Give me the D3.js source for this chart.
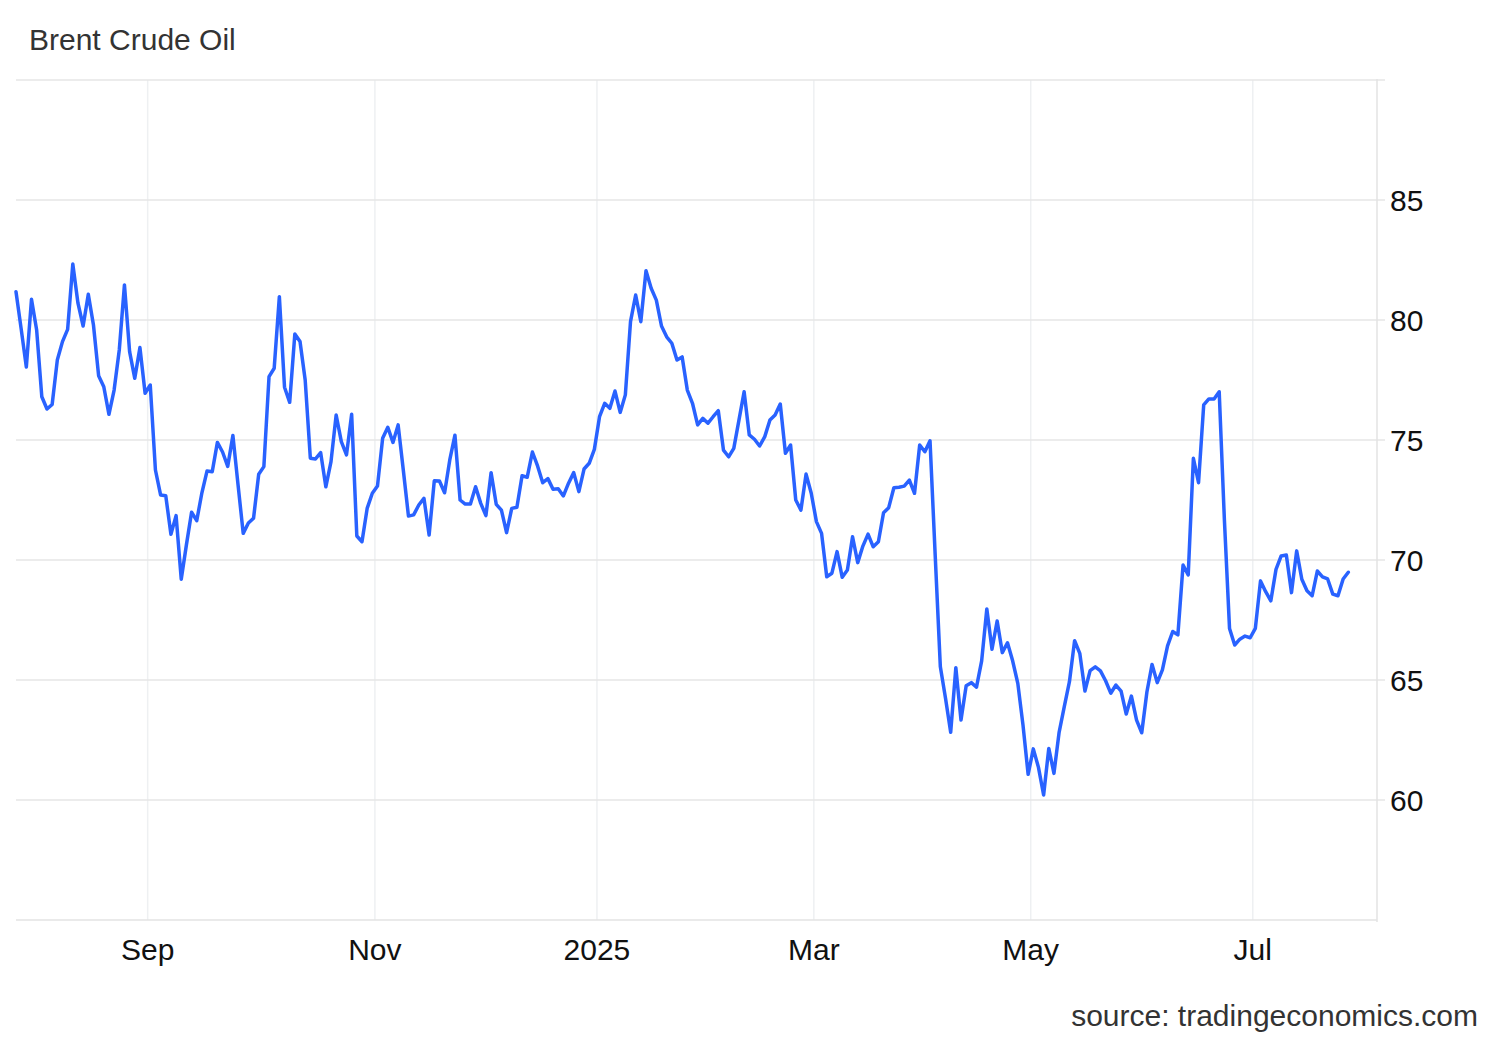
<!DOCTYPE html>
<html>
<head>
<meta charset="utf-8">
<script src="https://cdn.jsdelivr.net/npm/d3@7/dist/d3.min.js"></script>
<style>
  html, body { margin: 0; padding: 0; background: #ffffff; }
  svg { display: block; font-family: "Liberation Sans", Arial, Helvetica, sans-serif; }
</style>
</head>
<body>
<svg id="chart" width="1500" height="1040"></svg>
<script>
// ---- Data ----
const title = "Brent Crude Oil";
const sourceText = "source: tradingeconomics.com";
const firstDay = "2024-07-26";
const lastDay = "2025-07-25";
const closedDays = ["2025-01-01", "2025-04-18"];
const prices = [
  81.18, 79.63, 78.04, 80.86, 79.58, 76.80, 76.29, 76.48, 78.33, 79.10,
  79.61, 82.33, 80.70, 79.75, 81.07, 79.79, 77.68, 77.22, 76.07, 77.08,
  78.75, 81.46, 78.68, 77.57, 78.85, 76.95, 77.29, 73.75, 72.71, 72.68,
  71.07, 71.85, 69.20, 70.63, 71.99, 71.64, 72.80, 73.71, 73.68, 74.90,
  74.50, 73.90, 75.19, 73.13, 71.11, 71.54, 71.74, 73.57, 73.89, 77.64,
  77.99, 80.97, 77.20, 76.57, 79.42, 79.10, 77.50, 74.24, 74.21, 74.47,
  73.05, 74.10, 76.04, 74.93, 74.38, 76.07, 71.00, 70.76, 72.15, 72.78,
  73.08, 75.07, 75.53, 74.90, 75.63, 73.75, 71.83, 71.88, 72.29, 72.57,
  71.04, 73.30, 73.29, 72.80, 74.17, 75.20, 72.50, 72.33, 72.33, 73.05,
  72.36, 71.85, 73.64, 72.32, 72.08, 71.14, 72.15, 72.20, 73.51, 73.45,
  74.50, 73.92, 73.22, 73.39, 72.95, 72.97, 72.67, 73.20, 73.64, 72.85,
  73.79, 74.03, 74.61, 75.97, 76.53, 76.32, 77.04, 76.15, 76.88, 79.93,
  81.04, 79.93, 82.05, 81.32, 80.83, 79.75, 79.30, 79.03, 78.33, 78.46,
  77.08, 76.53, 75.63, 75.90, 75.70, 75.97, 76.22, 74.58, 74.30, 74.65,
  75.83, 77.01, 75.21, 75.03, 74.75, 75.14, 75.83, 76.04, 76.50, 74.45,
  74.79, 72.50, 72.08, 73.58, 72.78, 71.60, 71.11, 69.30, 69.45, 70.35,
  69.28, 69.58, 70.97, 69.89, 70.58, 71.08, 70.55, 70.76, 71.97, 72.18,
  73.01, 73.03, 73.08, 73.33, 72.78, 74.79, 74.51, 74.97, 70.20, 65.55,
  64.24, 62.82, 65.51, 63.33, 64.76, 64.89, 64.70, 65.80, 67.96, 66.28,
  67.46, 66.14, 66.55, 65.80, 64.86, 63.13, 61.07, 62.13, 61.36, 60.21,
  62.15, 61.11, 62.82, 63.89, 64.93, 66.64, 66.11, 64.54, 65.39, 65.55,
  65.38, 64.97, 64.45, 64.79, 64.54, 63.58, 64.33, 63.33, 62.80, 64.50,
  65.65, 64.89, 65.42, 66.42, 67.02, 66.88, 69.79, 69.38, 74.24, 73.22,
  76.46, 76.71, 76.71, 77.01, 71.70, 67.15, 66.46, 66.70, 66.83, 66.76,
  67.15, 69.13, 68.68, 68.30, 69.61, 70.17, 70.21, 68.64, 70.38, 69.20,
  68.72, 68.51, 69.54, 69.30, 69.21, 68.58, 68.51, 69.21, 69.49
];
const tickMonths = ["2024-09", "2024-11", "2025-01", "2025-03", "2025-05", "2025-07"];
const tickLabels = ["Sep", "Nov", "2025", "Mar", "May", "Jul"];
const yTicks = [60, 65, 70, 75, 80, 85];
const yGridValues = [60, 65, 70, 75, 80, 85, 90];

// ---- Trading-day calendar (weekdays minus closed days) ----
const parse = d3.timeParse("%Y-%m-%d");
const fmtDay = d3.timeFormat("%Y-%m-%d");
const fmtMonth = d3.timeFormat("%Y-%m");
const closedSet = new Set(closedDays);
const dates = d3.timeDay.range(parse(firstDay), d3.timeDay.offset(parse(lastDay), 1))
  .filter(d => d.getDay() !== 0 && d.getDay() !== 6 && !closedSet.has(fmtDay(d)));
const data = prices.map((v, i) => ({ i, date: dates[i], value: v }));

// ---- Layout ----
const svg = d3.select("#chart");
const plot = { left: 16, right: 1377, top: 80, bottom: 920 };

const x = d3.scaleLinear().domain([0, prices.length - 1]).range([plot.left, 1348.3]);
const y = d3.scaleLinear().domain([55, 90]).range([plot.bottom, plot.top]);

const tickIdx = tickMonths.map(m => dates.findIndex(d => fmtMonth(d) === m) - 0.5);

// background
svg.append("rect").attr("width", 1500).attr("height", 1040).attr("fill", "#ffffff");

// vertical grid lines
svg.append("g").selectAll("line").data(tickIdx).join("line")
  .attr("x1", d => x(d)).attr("x2", d => x(d))
  .attr("y1", plot.top).attr("y2", plot.bottom)
  .attr("stroke", "#eef0f2").attr("stroke-width", 1.5);

// horizontal grid lines
svg.append("g").selectAll("line").data(yGridValues).join("line")
  .attr("x1", plot.left).attr("x2", 1385)
  .attr("y1", d => y(d)).attr("y2", d => y(d))
  .attr("stroke", "#e6e6e6").attr("stroke-width", 1.5);

// axis frame (bottom + right)
svg.append("line")
  .attr("x1", plot.left).attr("x2", plot.right)
  .attr("y1", y(55)).attr("y2", y(55))
  .attr("stroke", "#e3e3e3").attr("stroke-width", 1.5);
svg.append("line")
  .attr("x1", plot.right).attr("x2", plot.right)
  .attr("y1", y(90) - 1).attr("y2", y(55) + 2)
  .attr("stroke", "#e3e3e3").attr("stroke-width", 1.5);

// y labels
svg.append("g").selectAll("text").data(yTicks).join("text")
  .attr("x", 1390).attr("y", d => y(d) + 11)
  .attr("font-size", 30).attr("fill", "#111")
  .text(d => d);

// x labels
svg.append("g").selectAll("text").data(tickIdx).join("text")
  .attr("x", d => x(d)).attr("y", 960)
  .attr("text-anchor", "middle")
  .attr("font-size", 30).attr("fill", "#111")
  .text((d, i) => tickLabels[i]);

// line
const line = d3.line().x(d => x(d.i)).y(d => y(d.value)).curve(d3.curveLinear);
svg.append("path").datum(data)
  .attr("d", line)
  .attr("fill", "none")
  .attr("stroke", "#2962ff")
  .attr("stroke-width", 3.5)
  .attr("stroke-linejoin", "round")
  .attr("stroke-linecap", "round");

// title
svg.append("text").attr("x", 29).attr("y", 50)
  .attr("font-size", 30).attr("fill", "#333")
  .text(title);

// source
svg.append("text").attr("x", 1478).attr("y", 1026)
  .attr("text-anchor", "end")
  .attr("font-size", 30).attr("fill", "#333")
  .text(sourceText);
</script>
</body>
</html>
